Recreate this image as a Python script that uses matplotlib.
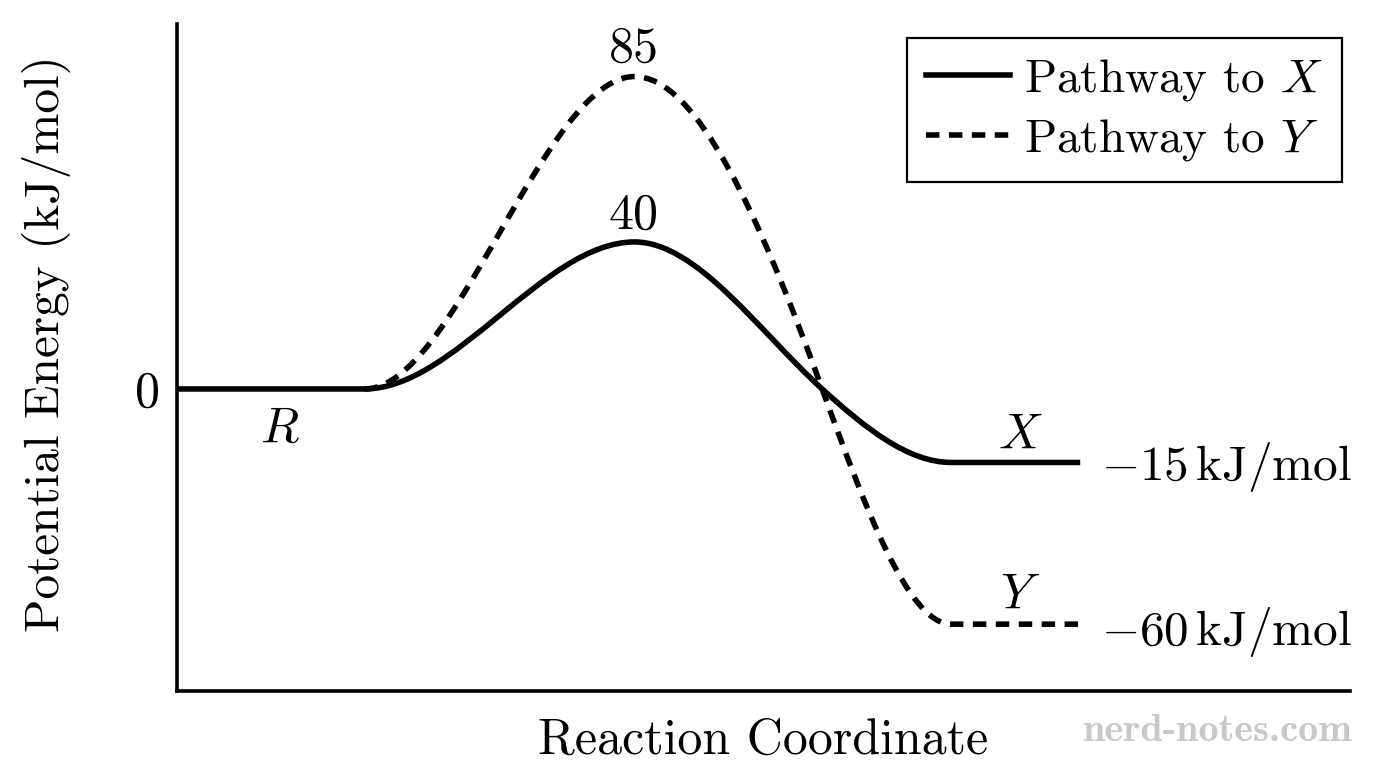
import matplotlib
matplotlib.use('Agg')
import matplotlib.pyplot as plt
from matplotlib.path import Path
from matplotlib.patches import PathPatch
from matplotlib.lines import Line2D

plt.rcParams['font.family'] = 'serif'
plt.rcParams['font.serif'] = ['cmr10']
plt.rcParams['mathtext.fontset'] = 'cm'
plt.rcParams['axes.formatter.use_mathtext'] = True
plt.rcParams['lines.scale_dashes'] = False

# key points along the reaction coordinate (x, energy, slope there)
x_keys_X = [0.0, 1.6, 3.9, 5.5, 6.6, 7.7]
e_keys_X = [0, 0, 40, 0, -20, -20]
s_keys_X = [0, 0, 0, -29, 0, 0]

x_keys_Y = [1.6, 3.9, 5.5, 6.6, 7.7]
e_keys_Y = [0, 85, 0, -64, -64]
s_keys_Y = [0, 0, -88, 0, 0]

labels = ['Pathway to $X$', 'Pathway to $Y$']
dash = (0, (9.7, 6.8))
lw = 4.0


def smooth_path(xs, es, ss):
    # cubic bezier pieces through the key points
    verts = [(xs[0], es[0])]
    codes = [Path.MOVETO]
    for i in range(len(xs) - 1):
        h = (xs[i + 1] - xs[i]) / 3
        verts.append((xs[i] + h, es[i] + ss[i] * h))
        verts.append((xs[i + 1] - h, es[i + 1] - ss[i + 1] * h))
        verts.append((xs[i + 1], es[i + 1]))
        codes += [Path.CURVE4] * 3
    return Path(verts, codes)


fig = plt.figure(figsize=(13.76, 7.68), dpi=100)
ax = fig.add_axes([177 / 1376, 1 - 690.7 / 768, 1173 / 1376, 666.7 / 768])
ax.set_xlim(0, 10)
ax.set_ylim(-82.1, 99.3)

ax.add_patch(PathPatch(smooth_path(x_keys_X, e_keys_X, s_keys_X), fill=False,
                       lw=lw, ec='black', capstyle='butt'))
ax.add_patch(PathPatch(smooth_path(x_keys_Y, e_keys_Y, s_keys_Y), fill=False,
                       lw=lw, ec='black', ls=dash, capstyle='butt'))

for s in ['top', 'right']:
    ax.spines[s].set_visible(False)
for s in ['left', 'bottom']:
    ax.spines[s].set_linewidth(2.6)

ax.set_xticks([])
ax.set_yticks([0])
ax.set_yticklabels(['0'])
ax.tick_params(axis='y', length=0, pad=12, labelsize=36)

fs = 36
ax.text(0.878, -14.4, '$R$', ha='center', va='baseline', fontsize=fs)
ax.text(3.896, 89.0, '85', ha='center', va='baseline', fontsize=fs)
ax.text(3.896, 43.5, '40', ha='center', va='baseline', fontsize=fs)
ax.text(7.19, -16.1, '$X$', ha='center', va='baseline', fontsize=fs)
ax.text(7.19, -59.6, '$Y$', ha='center', va='baseline', fontsize=fs)
ax.text(7.88, -24.8, r'$-15\,\mathrm{kJ/mol}$', ha='left', va='baseline', fontsize=35.5)
ax.text(7.88, -69.7, r'$-60\,\mathrm{kJ/mol}$', ha='left', va='baseline', fontsize=35.5)

ax.set_xlabel('Reaction Coordinate', fontsize=36)
ax.xaxis.set_label_coords(0.5, -0.095)
ax.xaxis.label.set_va('baseline')
ax.set_ylabel('Potential Energy (kJ/mol)', fontsize=35.5)
ax.yaxis.set_label_coords(-0.111, 0.52)
ax.yaxis.label.set_va('center')
ax.yaxis.label.set_ha('center')

handles = [Line2D([], [], color='black', lw=lw),
           Line2D([], [], color='black', lw=lw, ls=dash)]
leg = ax.legend(handles, labels, loc='upper right', bbox_to_anchor=(0.993, 0.979),
                borderaxespad=0, fontsize=34, fancybox=False, edgecolor='black',
                framealpha=1, handlelength=1.78, handletextpad=0.3,
                labelspacing=0.3, borderpad=0.4)
leg.get_frame().set_linewidth(1.6)

fig.text(1352 / 1376, (768 - 741) / 768, 'nerd-notes.com', ha='right', va='baseline',
         family='cmb10', fontsize=29, color='#c8c8c8')

fig.savefig('out.png', dpi=100)
